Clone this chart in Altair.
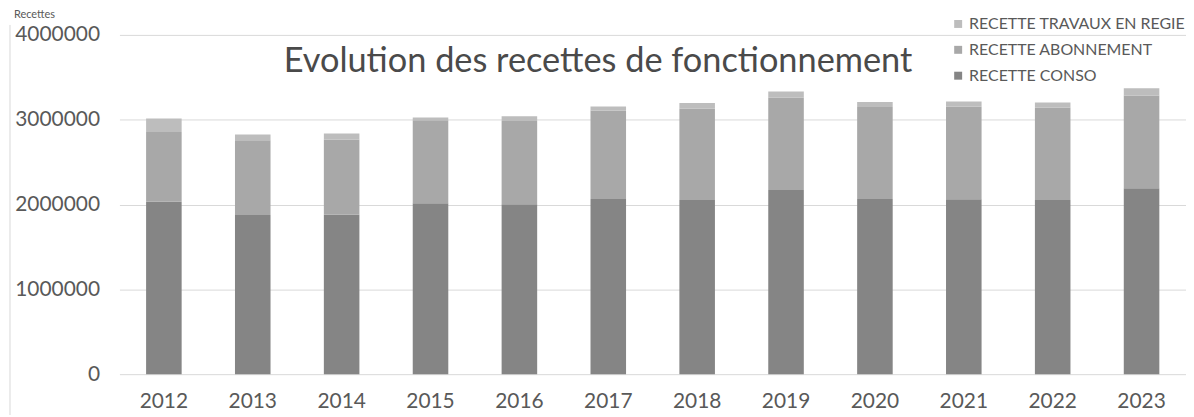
import altair as alt
import pandas as pd

years = [str(y) for y in range(2012, 2024)]
conso = [2034000, 1878000, 1880000, 2015000, 2004000, 2066000, 2054000, 2171000, 2066000, 2062000, 2054000, 2191000]
abonnement = [822000, 880000, 886000, 978000, 981000, 1044000, 1076000, 1092000, 1083000, 1091000, 1088000, 1095000]
regie = [157000, 67000, 71000, 32000, 55000, 47000, 66000, 70000, 61000, 62000, 62000, 86000]

series = ["RECETTE TRAVAUX EN REGIE", "RECETTE ABONNEMENT", "RECETTE CONSO"]
colors = ["#bdbdbd", "#a8a8a8", "#858585"]
y_ticks = [0, 1000000, 2000000, 3000000, 4000000]
title_text = "Evolution des recettes de fonctionnement"
axis_title = "Recettes"

rows = []
for i, yr in enumerate(years):
    rows.append({"year": yr, "series": series[2], "value": conso[i], "ord": 0})
    rows.append({"year": yr, "series": series[1], "value": abonnement[i], "ord": 1})
    rows.append({"year": yr, "series": series[0], "value": regie[i], "ord": 2})
df = pd.DataFrame(rows)

FONT = "Lato"
TXT = "#595959"

bars = alt.Chart(df).mark_bar().encode(
    x=alt.X("year:O", sort=years,
            scale=alt.Scale(paddingInner=0.6, paddingOuter=0.3),
            axis=alt.Axis(title=None, labelAngle=0, labelFont=FONT, labelFontSize=21,
                          labelColor=TXT, ticks=False, domain=False, labelPadding=16)),
    y=alt.Y("value:Q", stack="zero",
            scale=alt.Scale(domain=[0, 4000000], nice=False),
            axis=alt.Axis(title=None, values=y_ticks, format="d", labelFont=FONT,
                          labelFontSize=21, labelColor=TXT, ticks=False, domain=False,
                          labelPadding=20, grid=True, gridColor="#d9d9d9", gridWidth=1)),
    color=alt.Color("series:N", scale=alt.Scale(domain=series, range=colors),
                    legend=alt.Legend(title=None, orient="none", legendX=835, legendY=-19,
                                      symbolType="square", symbolSize=64, symbolStrokeWidth=0,
                                      labelFont=FONT, labelFontSize=16, labelColor=TXT,
                                      labelOffset=3, rowPadding=10, labelLimit=0)),
    order=alt.Order("ord:Q"),
)

one = pd.DataFrame({"t": [title_text], "a": [axis_title]})

title = alt.Chart(one).mark_text(font=FONT, fontSize=34.5, color="#4a4a4a",
                                 align="center", baseline="alphabetic").encode(
    text="t:N", x=alt.value(481), y=alt.value(37))

ytitle = alt.Chart(one).mark_text(font=FONT, fontSize=11, color=TXT,
                                  align="left", baseline="alphabetic").encode(
    text="a:N", x=alt.value(-106), y=alt.value(-17))

border = alt.Chart(one).mark_rule(color="#d9d9d9", strokeWidth=1).encode(
    x=alt.value(-110), y=alt.value(-10), y2=alt.value(400))

chart = alt.layer(bars, title, ytitle, border).properties(
    width=1072, height=341,
    autosize=alt.AutoSizeParams(type="none"),
    padding={"left": 112, "top": 26, "right": 0, "bottom": 40},
).configure_view(stroke=None)

chart.save("out.html", embed_options={"renderer": "svg", "actions": False})
